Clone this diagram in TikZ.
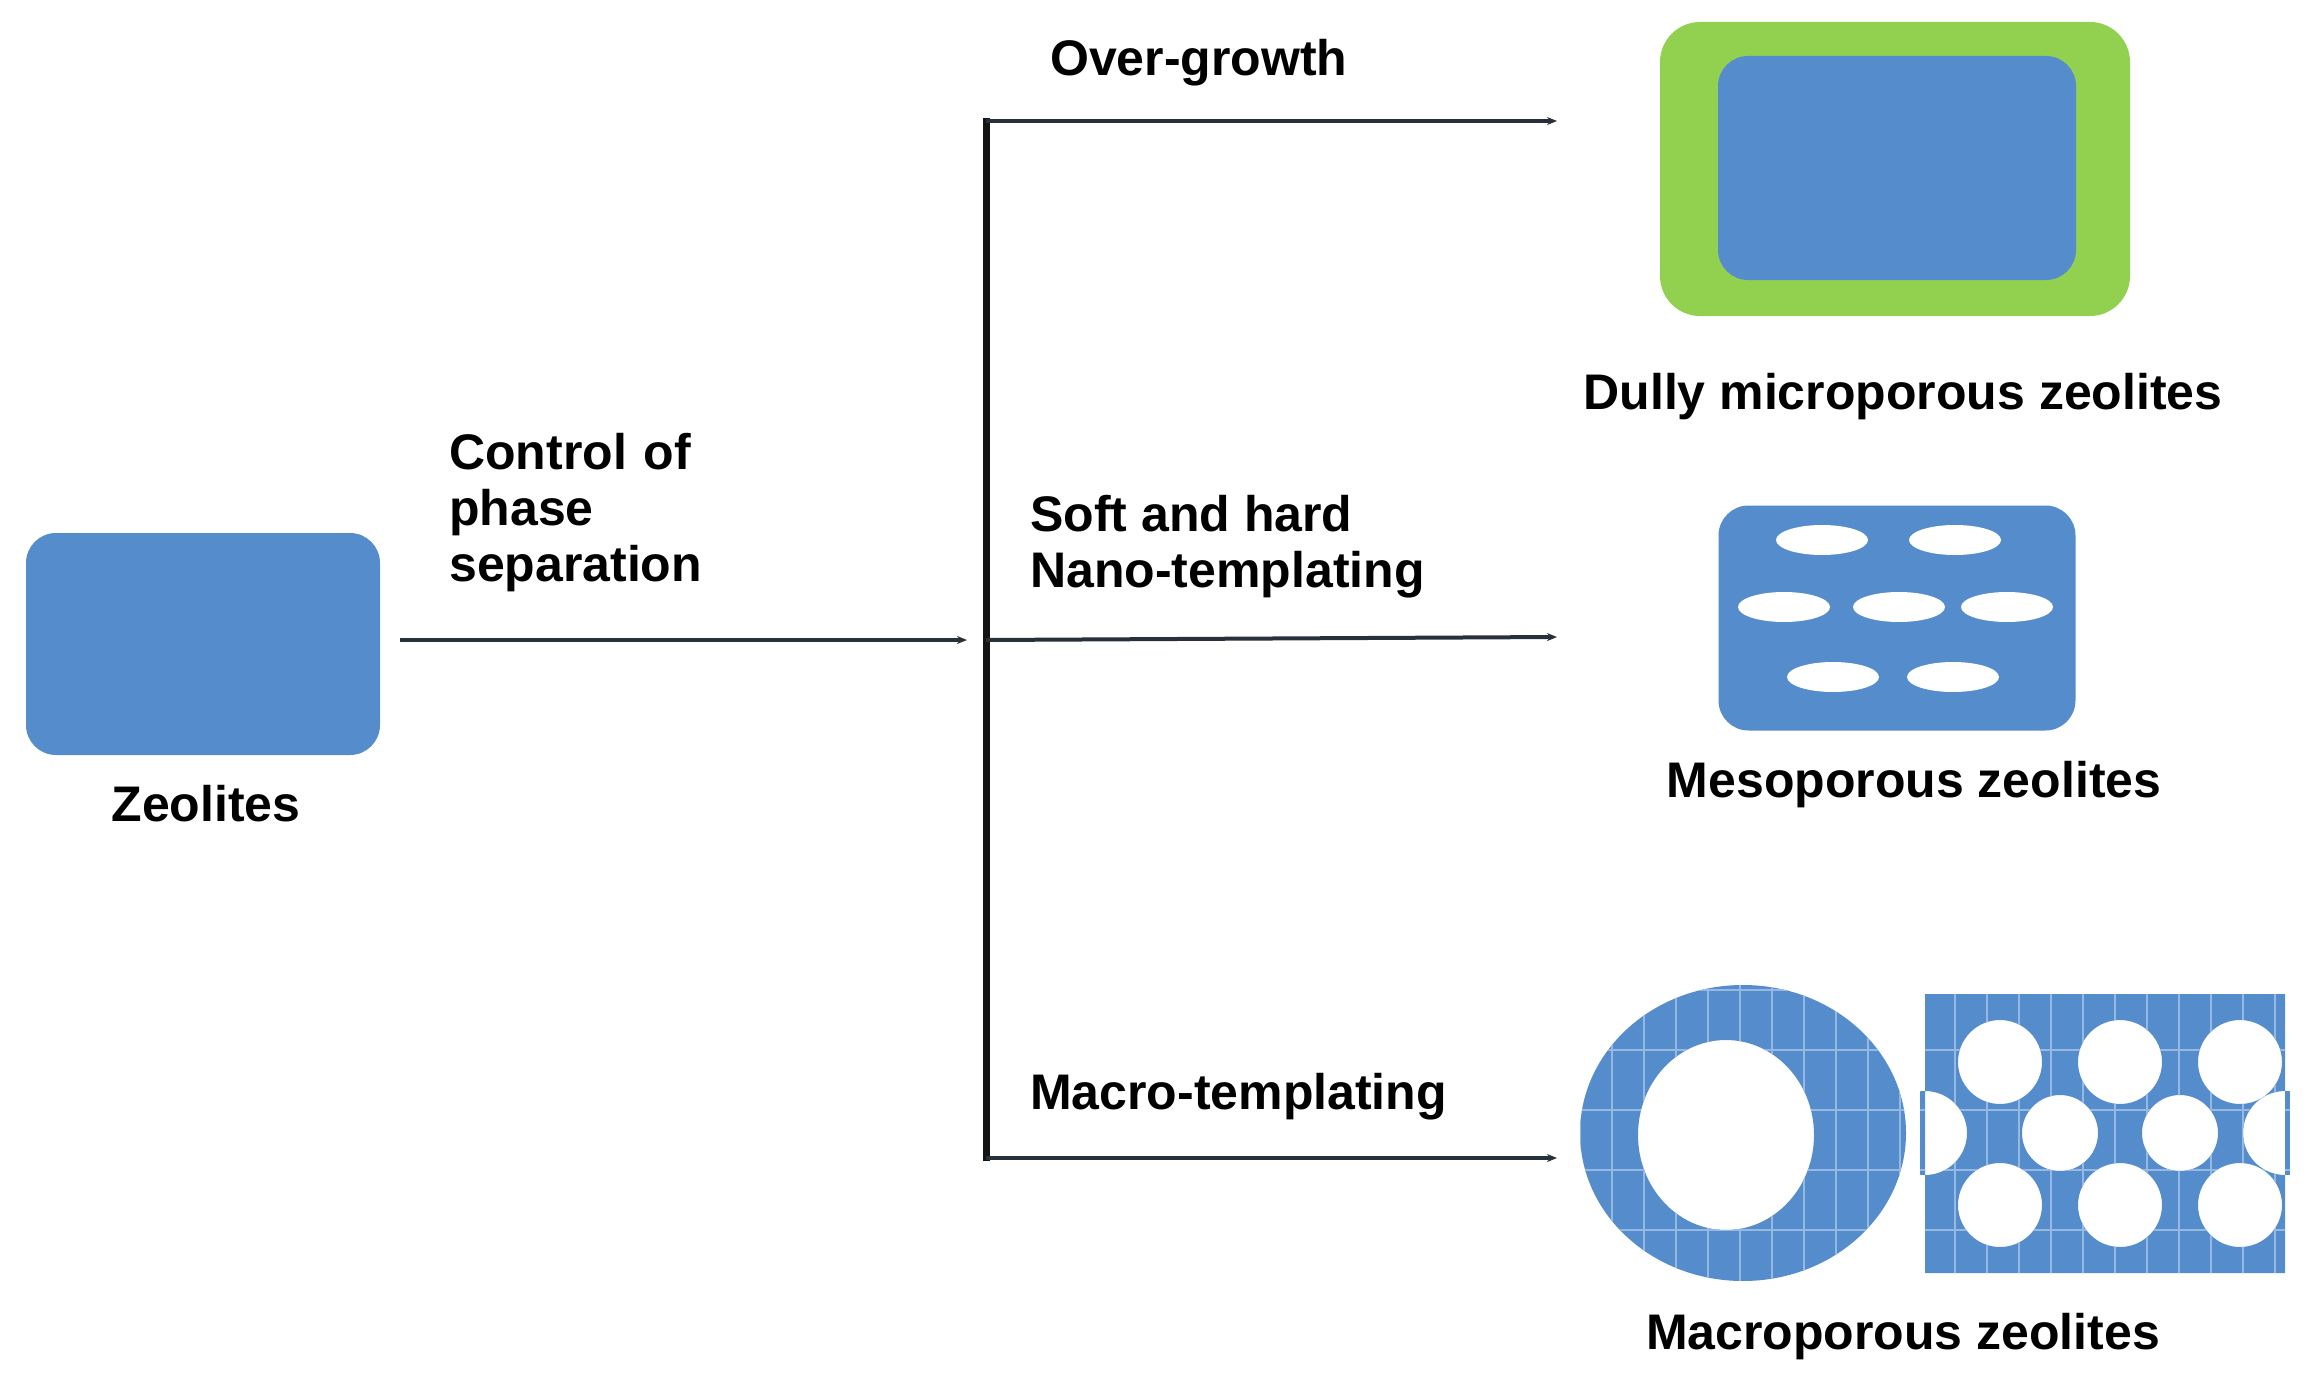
\documentclass[tikz,border=0pt]{standalone}
\usepackage{fontspec}
\setmainfont{Liberation Sans}
\usetikzlibrary{arrows.meta}
\begin{document}
\begin{tikzpicture}[x=1pt,y=-1pt,
  lbl/.style={font=\fontsize{50}{60}\selectfont\bfseries,inner sep=0pt},
  con/.style={line width=4pt,draw={rgb,255:red,40;green,48;blue,60},-{Stealth[length=10pt,width=8pt]}},
  blueF/.style={fill={rgb,255:red,84;green,140;blue,204}}]
\useasboundingbox (0,0) rectangle (2308,1386);
\definecolor{zb}{RGB}{84,140,204}
\definecolor{zg}{RGB}{146,208,80}
\definecolor{gl}{RGB}{150,185,225}
% zeolite
\node[blueF,rounded corners=30pt,minimum width=354pt,minimum height=222pt,inner sep=0pt] (zeo) at (203,644) {};
\node[lbl,anchor=north] (zl) at (206,785) {Zeolites};
\coordinate (hub) at (986,640);
\draw[con] (400,640) -- (967,640);
\node[lbl,align=left,anchor=north west,text width=400pt] (cps) at (449,433) {Control of\\[-4pt]phase\\[-4pt]separation};
% trunk
\coordinate (t1) at (986,121);
\coordinate (t3) at (986,1158);
\draw[line width=7pt,draw={rgb,255:red,20;green,20;blue,20}] (986,118) -- (986,1161);
\draw[con] (t1) -- (1557,121);
\draw[con] (hub) -- (1557,637);
\draw[con] (t3) -- (1557,1158);
\node[lbl,anchor=west] (og) at (1050,63) {Over-growth};
\node[lbl,anchor=north west,align=left] (sh) at (1030,495) {Soft and hard\\[-4pt]Nano-templating};
\node[lbl,anchor=west] (mt) at (1030,1097) {Macro-templating};
% dully
\node[fill=zg,rounded corners=40pt,minimum width=470pt,minimum height=294pt,inner sep=0pt] (dg) at (1895,169) {};
\node[blueF,rounded corners=30pt,minimum width=358pt,minimum height=224pt,inner sep=0pt] (db) at (1897,168) {};
\node[lbl] (dl) at (1903,397) {Dully microporous zeolites};
% meso
\node[blueF,rounded corners=30pt,minimum width=357pt,minimum height=225pt,inner sep=0pt] (mb) at (1897,618) {};
\foreach \x/\y in {1822/540,1955/540,1784/607,1899/607,2007/607,1833/677,1953/677}
  \fill[white] (\x,\y) ellipse (46 and 15);
\node[lbl] (ml) at (1914,785) {Mesoporous zeolites};
% macro ring
\begin{scope}[even odd rule]
\clip (1743,1133) ellipse (163 and 148) (1726,1135) ellipse (88 and 95);
\fill[zb] (1570,980) rectangle (1910,1290);
\foreach \x in {1580,1612,...,1910} \draw[gl,line width=2pt] (\x,980) -- (\x,1290);
\foreach \y in {990,1050,1110,1170,1230} \draw[gl,line width=2pt] (1570,\y) -- (1910,\y);
\end{scope}
% macro block
\begin{scope}[even odd rule]
\clip (1925,994) rectangle (2285,1273)
  (2000,1062) circle (42) (2120,1062) circle (42) (2240,1062) circle (42)
  (1925,1133) circle (42) (2285,1133) circle (42)
  (2060,1133) circle (38) (2180,1133) circle (38)
  (2000,1205) circle (42) (2120,1205) circle (42) (2240,1205) circle (42);
\fill[zb] (1920,990) rectangle (2290,1280);
\foreach \x in {1955,1987,...,2285} \draw[gl,line width=2pt] (\x,990) -- (\x,1280);
\foreach \y in {1050,1110,1170,1230} \draw[gl,line width=2pt] (1920,\y) -- (2290,\y);
\end{scope}
\node[lbl] (al) at (1903,1337) {Macroporous zeolites};
\end{tikzpicture}
\end{document}
